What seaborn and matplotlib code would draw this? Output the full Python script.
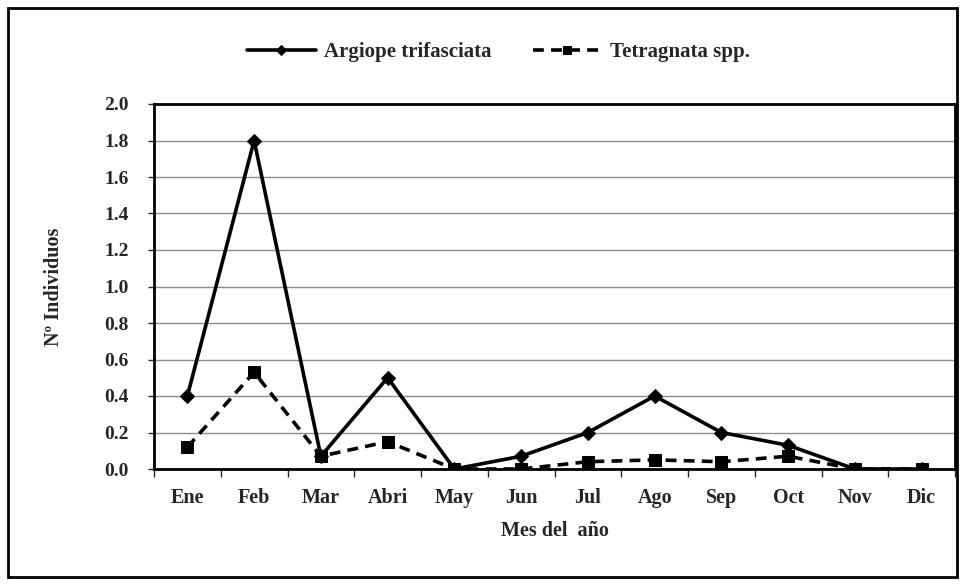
import pandas as pd
import numpy as np
import matplotlib
matplotlib.use("Agg")
import matplotlib.pyplot as plt
import matplotlib.patches as patches
import seaborn as sns

# ------------------------------------------
# Data
# ------------------------------------------

meses = ['Ene', 'Feb', 'Mar', 'Abri', 'May', 'Jun',
         'Jul', 'Ago', 'Sep', 'Oct', 'Nov', 'Dic']

argiope = [0.40, 1.80, 0.07, 0.50, 0.00, 0.07, 0.20, 0.40, 0.20, 0.13, 0.00, 0.00]
tetragnata = [0.12, 0.53, 0.07, 0.15, 0.00, 0.00, 0.04, 0.05, 0.04, 0.07, 0.00, 0.00]

df = pd.DataFrame({
    'pos': np.arange(len(meses)),
    'mes': meses,
    'Argiope trifasciata': argiope,
    'Tetragnata spp.': tetragnata,
})

# ------------------------------------------
# Style
# ------------------------------------------

sns.set_style("white")
plt.rcParams['font.family'] = ['Liberation Serif', 'DejaVu Serif']
plt.rcParams['font.weight'] = 'bold'

fig = plt.figure(figsize=(9.64, 5.84), dpi=100)
ax = fig.add_axes([154/964, 1 - 469/584, (955 - 154)/964, (469 - 104)/584])

sns.lineplot(
    data=df, x='pos', y='Argiope trifasciata', ax=ax,
    color='black', linewidth=2.6, marker='D', markersize=7.5,
    markeredgecolor='black', label='Argiope trifasciata'
)
sns.lineplot(
    data=df, x='pos', y='Tetragnata spp.', ax=ax,
    color='black', linewidth=2.6, linestyle=(0, (3, 2)), marker='s', markersize=9,
    markeredgecolor='black', label='Tetragnata spp.'
)

ax.set_xlim(-0.5, len(meses) - 0.5)
ax.set_ylim(0, 2.0)

yt = np.arange(0, 2.01, 0.2)
ax.set_yticks(yt)
ax.set_yticklabels([f"{v:.1f}" for v in yt], fontsize=14, fontweight='bold')
ax.set_xticks(np.arange(len(meses)))
ax.set_xticklabels(meses, fontsize=14.5, fontweight='bold')
ax.tick_params(axis='x', which='major', length=0, pad=14)
ax.set_xticks(np.arange(-0.5, len(meses), 1), minor=True)
ax.tick_params(axis='x', which='minor', length=6, width=1, direction='out', bottom=True)
ax.tick_params(axis='y', length=4, width=1, direction='out', left=True, pad=14)

ax.grid(axis='y', color='#8c8c8c', linewidth=1)
ax.set_axisbelow(True)
for s in ax.spines.values():
    s.set_color('black')
    s.set_linewidth(2)

ax.set_xlabel('Mes del  año', fontsize=14.5, fontweight='bold', labelpad=9)
ax.set_ylabel('Nº Individuos', fontsize=14.5, fontweight='bold', labelpad=29)

ax.legend(
    loc='center', bbox_to_anchor=(0.517, 1 - 52/584), bbox_transform=fig.transFigure,
    ncol=2, frameon=False, handlelength=3.3, handletextpad=0.4, columnspacing=2.0,
    markerscale=0.65, prop={'weight': 'bold', 'size': 15}
)

# outer frame
fig.patches.append(patches.Rectangle(
    (8/964, 1 - 577/584), (957 - 8)/964, (577 - 8)/584,
    transform=fig.transFigure, fill=False, edgecolor='black', linewidth=2
))

fig.savefig("out.png", dpi=100)
